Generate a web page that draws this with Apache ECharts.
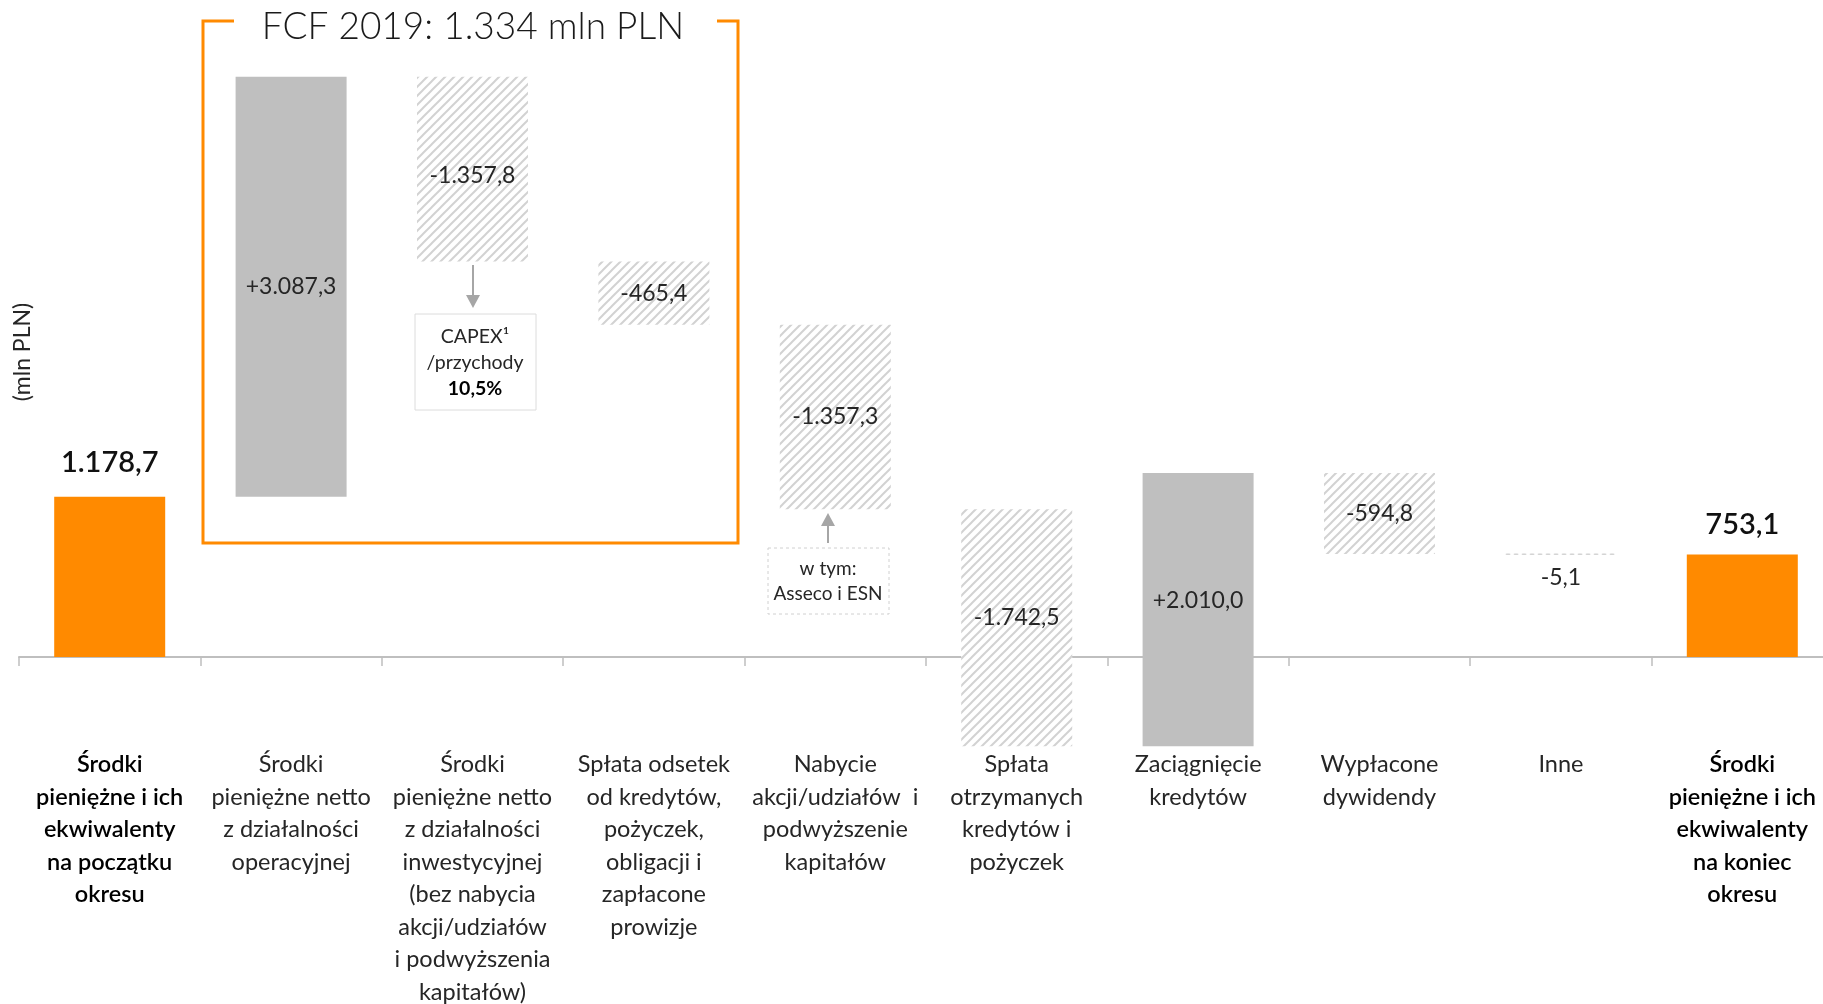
<!DOCTYPE html>
<html>
<head>
<meta charset="utf-8" />
<script src="https://cdn.jsdelivr.net/npm/echarts@6/dist/echarts.min.js"></script>
<style>
  html, body { margin: 0; padding: 0; background: #fff; }
  #chart { width: 1823px; height: 1004px; }
</style>
</head>
<body>
<div id="chart"></div>
<script>
// kategorie osi X
const categories = [
  "Środki\npieniężne i ich\nekwiwalenty\nna początku\nokresu",
  "Środki\npieniężne netto\nz działalności\noperacyjnej",
  "Środki\npieniężne netto\nz działalności\ninwestycyjnej\n(bez nabycia\nakcji/udziałów\ni podwyższenia\nkapitałów)",
  "Spłata odsetek\nod kredytów,\npożyczek,\nobligacji i\nzapłacone\nprowizje",
  "Nabycie\nakcji/udziałów  i\npodwyższenie\nkapitałów",
  "Spłata\notrzymanych\nkredytów i\npożyczek",
  "Zaciągnięcie\nkredytów",
  "Wypłacone\ndywidendy",
  "Inne",
  "Środki\npieniężne i ich\nekwiwalenty\nna koniec\nokresu",
];
// wartości (mln PLN)
const values = [1178.7, 3087.3, -1357.8, -465.4, -1357.3, -1742.5, 2010.0, -594.8, -5.1, 753.1];
// typ słupka: total / up / down
const kinds = ["total", "up", "down", "down", "down", "down", "up", "down", "down", "total"];
const valueLabels = ["1.178,7", "+3.087,3", "-1.357,8", "-465,4", "-1.357,3", "-1.742,5", "+2.010,0", "-594,8", "-5,1", "753,1"];

const ORANGE = "#FF8A00";
const GREY = "#BFBFBF";
const TEXT = "#262626";
const FONT = "Lato, 'Open Sans', sans-serif";

// kreskowanie dla słupków ujemnych
function makeHatch() {
  const s = 9;
  const c = document.createElement("canvas");
  c.width = s;
  c.height = s;
  const ctx = c.getContext("2d");
  ctx.fillStyle = "#ffffff";
  ctx.fillRect(0, 0, s, s);
  ctx.strokeStyle = "#d2d2d2";
  ctx.lineWidth = 2;
  [[-1, 1, 1, -1], [0, s, s, 0], [s - 1, s + 1, s + 1, s - 1]].forEach((l) => {
    ctx.beginPath();
    ctx.moveTo(l[0], l[1]);
    ctx.lineTo(l[2], l[3]);
    ctx.stroke();
  });
  return c;
}

function initChart() {
  const chartInstance = echarts.init(document.getElementById("chart"), null, { renderer: "canvas" });
  const hatch = { image: makeHatch(), repeat: "repeat" };

  // podstawa (przezroczysta) i wysokość każdego słupka
  const baseData = [];
  const barData = [];
  let running = 0;
  values.forEach((v, i) => {
    let low, h;
    if (kinds[i] === "total") {
      low = 0;
      h = v;
      running = v;
    } else {
      low = Math.min(running, running + v);
      h = Math.abs(v);
      running += v;
    }
    baseData.push(low);

    const item = { value: h, itemStyle: {}, label: {} };
    if (kinds[i] === "total") {
      item.itemStyle.color = ORANGE;
      item.label = { position: "top", distance: i === 0 ? 20 : 15, fontSize: 29, fontWeight: 600, color: "#111" };
    } else if (kinds[i] === "up") {
      item.itemStyle.color = GREY;
    } else {
      item.itemStyle.color = hatch;
    }
    if (i === 8) {
      item.itemStyle = { color: "rgba(0,0,0,0)", borderColor: "#d0d0d0", borderWidth: 1, borderType: [4, 4] };
      item.label = { position: "bottom", distance: 11 };
    }
    if (i === 2) item.label.offset = [0, 6];
    if (i === 5) item.label.offset = [0, -10];
    if (i === 6) item.label.offset = [0, -9];
    barData.push(item);
  });

  const xData = categories.map((c, i) =>
    kinds[i] === "total" ? { value: c, textStyle: { fontWeight: 600, color: "#000" } } : c
  );

  const option = {
    animation: false,
    textStyle: { fontFamily: FONT },
    // dolna krawędź siatki tuż pod najniższym słupkiem – etykiety kategorii liczone są od niej
    grid: { left: 19, width: 1814, top: 45, height: 707.2, outerBoundsMode: "none" },
    xAxis: {
      type: "category",
      data: xData,
      axisLine: { onZero: true, lineStyle: { color: GREY, width: 2 } },
      axisTick: { show: true, length: 9, lineStyle: { color: GREY, width: 1.5 } },
      axisLabel: {
        interval: 0,
        margin: -4,
        fontSize: 23.5,
        lineHeight: 32.5,
        color: TEXT,
        fontFamily: FONT,
      },
      splitLine: { show: false },
    },
    yAxis: {
      type: "value",
      min: -700,
      max: 4500,
      show: false,
    },
    series: [
      {
        type: "bar",
        stack: "wf",
        stackStrategy: "all",
        barWidth: 111,
        silent: true,
        itemStyle: { color: "rgba(0,0,0,0)" },
        data: baseData,
      },
      {
        type: "bar",
        stack: "wf",
        stackStrategy: "all",
        barWidth: 111,
        label: {
          show: true,
          position: "inside",
          fontSize: 23,
          color: TEXT,
          fontFamily: FONT,
          formatter: (p) => valueLabels[p.dataIndex],
        },
        data: barData,
      },
    ],
    graphic: [
      // oś Y – jednostka
      {
        type: "text",
        x: 23,
        y: 352,
        rotation: Math.PI / 2,
        style: { text: "(mln PLN)", fill: TEXT, font: "23px " + FONT, align: "center", verticalAlign: "middle" },
      },
      // ramka FCF
      {
        type: "polyline",
        shape: { points: [[234, 21], [203, 21], [203, 543], [738, 543], [738, 21], [717, 21]] },
        style: { stroke: ORANGE, lineWidth: 3, fill: null },
      },
      {
        type: "text",
        x: 473,
        y: 27,
        style: { text: "FCF 2019: 1.334 mln PLN", fill: "#1a1a1a", font: "300 37px " + FONT, align: "center", verticalAlign: "middle" },
      },
      // strzałka CAPEX
      {
        type: "line",
        shape: { x1: 473, y1: 265, x2: 473, y2: 298 },
        style: { stroke: "#A6A6A6", lineWidth: 2 },
      },
      {
        type: "polygon",
        shape: { points: [[466, 295], [480, 295], [473, 308]] },
        style: { fill: "#A6A6A6" },
      },
      {
        type: "rect",
        shape: { x: 415, y: 314, width: 121, height: 96 },
        style: { fill: "#fff", stroke: "#dcdcdc", lineWidth: 1 },
      },
      {
        type: "text",
        x: 475,
        y: 337,
        style: { text: "CAPEX¹", fill: TEXT, font: "19.5px " + FONT, align: "center", verticalAlign: "middle" },
      },
      {
        type: "text",
        x: 475,
        y: 363,
        style: { text: "/przychody", fill: TEXT, font: "19.5px " + FONT, align: "center", verticalAlign: "middle" },
      },
      {
        type: "text",
        x: 475,
        y: 389,
        style: { text: "10,5%", fill: "#000", font: "bold 19.5px " + FONT, align: "center", verticalAlign: "middle" },
      },
      // strzałka nabycia akcji
      {
        type: "line",
        shape: { x1: 828, y1: 543, x2: 828, y2: 523 },
        style: { stroke: "#A6A6A6", lineWidth: 2 },
      },
      {
        type: "polygon",
        shape: { points: [[821, 526], [835, 526], [828, 513]] },
        style: { fill: "#A6A6A6" },
      },
      {
        type: "rect",
        shape: { x: 768, y: 548, width: 121, height: 66 },
        style: { fill: "#fff", stroke: "#d0d0d0", lineWidth: 1, lineDash: [3, 3] },
      },
      {
        type: "text",
        x: 828,
        y: 569,
        style: { text: "w tym:", fill: TEXT, font: "19px " + FONT, align: "center", verticalAlign: "middle" },
      },
      {
        type: "text",
        x: 828,
        y: 594,
        style: { text: "Asseco i ESN", fill: TEXT, font: "19px " + FONT, align: "center", verticalAlign: "middle" },
      },
    ],
  };
  chartInstance.setOption(option);
}

initChart();
</script>
</body>
</html>
